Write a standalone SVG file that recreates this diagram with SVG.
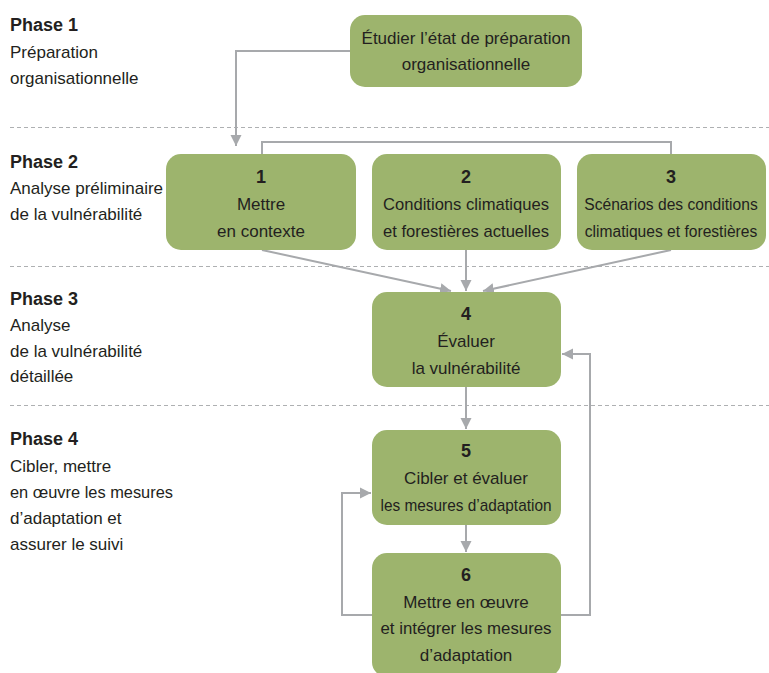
<svg xmlns="http://www.w3.org/2000/svg" width="769" height="673" viewBox="0 0 769 673">
<style>
.sep{stroke:#aeb0b2;stroke-width:1.2;stroke-dasharray:4 3;fill:none}
.box{fill:#9db46d}
.t{font-family:"Liberation Sans",Arial,sans-serif;font-size:17px;fill:#231f20}
.c{text-anchor:middle}
.b{font-weight:bold;font-size:18px}
.s{font-size:15.6px}
.ln{stroke:#a7a9ac;stroke-width:2;fill:none}
</style>
<defs>
<marker id="ah" markerUnits="userSpaceOnUse" markerWidth="12" markerHeight="12" viewBox="0 0 12 12" refX="11" refY="6" orient="auto">
<path d="M0,0.5 L11,6 L0,11.5 Z" fill="#a7a9ac"/>
</marker>
</defs>
<rect width="769" height="673" fill="#ffffff"/>
<g id="separators">
<line class="sep" x1="10" y1="127.5" x2="769" y2="127.5"/>
<line class="sep" x1="10" y1="266.5" x2="769" y2="266.5"/>
<line class="sep" x1="10" y1="405.5" x2="769" y2="405.5"/>
</g>
<g id="phase-labels" class="t">
<text x="10" y="31" class="t b">Phase 1</text>
<text x="10" y="58" class="t">Préparation</text>
<text x="10" y="84" class="t">organisationnelle</text>
<text x="10" y="168" class="t b">Phase 2</text>
<text x="10" y="194" class="t">Analyse préliminaire</text>
<text x="10" y="220" class="t">de la vulnérabilité</text>
<text x="10" y="305" class="t b">Phase 3</text>
<text x="10" y="331" class="t">Analyse</text>
<text x="10" y="357" class="t">de la vulnérabilité</text>
<text x="10" y="382" class="t">détaillée</text>
<text x="10" y="445" class="t b">Phase 4</text>
<text x="10" y="472" class="t">Cibler, mettre</text>
<text x="10" y="498" class="t" textLength="163" lengthAdjust="spacingAndGlyphs">en œuvre les mesures</text>
<text x="10" y="524" class="t">d’adaptation et</text>
<text x="10" y="550" class="t">assurer le suivi</text>
</g>
<g id="connectors">
<polyline class="ln" points="350,51 236,51 236,146" marker-end="url(#ah)"/>
<polyline class="ln" points="262,154 262,142 671,142 671,154"/>
<line class="ln" x1="262" y1="250" x2="451" y2="291" marker-end="url(#ah)"/>
<line class="ln" x1="466" y1="250" x2="466" y2="291" marker-end="url(#ah)"/>
<line class="ln" x1="671" y1="250" x2="483" y2="291" marker-end="url(#ah)"/>
<line class="ln" x1="466" y1="387" x2="466" y2="429" marker-end="url(#ah)"/>
<line class="ln" x1="466" y1="525" x2="466" y2="552" marker-end="url(#ah)"/>
<polyline class="ln" points="372,615 342,615 342,493 371,493" marker-end="url(#ah)"/>
<polyline class="ln" points="561,615 590,615 590,354 562,354" marker-end="url(#ah)"/>
</g>
<g id="node-prep">
<rect class="box" x="350" y="15" width="232" height="72" rx="15"/>
<text class="t c" x="466" y="44">Étudier l’état de préparation</text>
<text class="t c" x="466" y="70">organisationnelle</text>
</g>
<g id="node-1">
<rect class="box" x="166" y="154" width="190" height="96" rx="15"/>
<text class="t c b" x="261" y="183">1</text>
<text class="t c" x="261" y="210">Mettre</text>
<text class="t c" x="261" y="237">en contexte</text>
</g>
<g id="node-2">
<rect class="box" x="372" y="154" width="189" height="96" rx="15"/>
<text class="t c b" x="466" y="183">2</text>
<text class="t c" x="466" y="210" textLength="166" lengthAdjust="spacingAndGlyphs">Conditions climatiques</text>
<text class="t c" x="466" y="237" textLength="166" lengthAdjust="spacingAndGlyphs">et forestières actuelles</text>
</g>
<g id="node-3">
<rect class="box" x="577" y="154" width="189" height="96" rx="15"/>
<text class="t c b" x="671" y="183">3</text>
<text class="t c s" x="671" y="210">Scénarios des conditions</text>
<text class="t c s" x="671" y="237">climatiques et forestières</text>
</g>
<g id="node-4">
<rect class="box" x="372" y="292" width="189" height="95" rx="15"/>
<text class="t c b" x="466" y="320">4</text>
<text class="t c" x="466" y="347">Évaluer</text>
<text class="t c" x="466" y="374">la vulnérabilité</text>
</g>
<g id="node-5">
<rect class="box" x="372" y="430" width="189" height="95" rx="15"/>
<text class="t c b" x="466" y="457">5</text>
<text class="t c" x="466" y="484">Cibler et évaluer</text>
<text class="t c" x="466" y="511" textLength="171" lengthAdjust="spacingAndGlyphs">les mesures d’adaptation</text>
</g>
<g id="node-6">
<rect class="box" x="372" y="553" width="189" height="124" rx="15"/>
<text class="t c b" x="466" y="581">6</text>
<text class="t c" x="466" y="608">Mettre en œuvre</text>
<text class="t c" x="466" y="634" textLength="171" lengthAdjust="spacingAndGlyphs">et intégrer les mesures</text>
<text class="t c" x="466" y="661">d’adaptation</text>
</g>
</svg>
